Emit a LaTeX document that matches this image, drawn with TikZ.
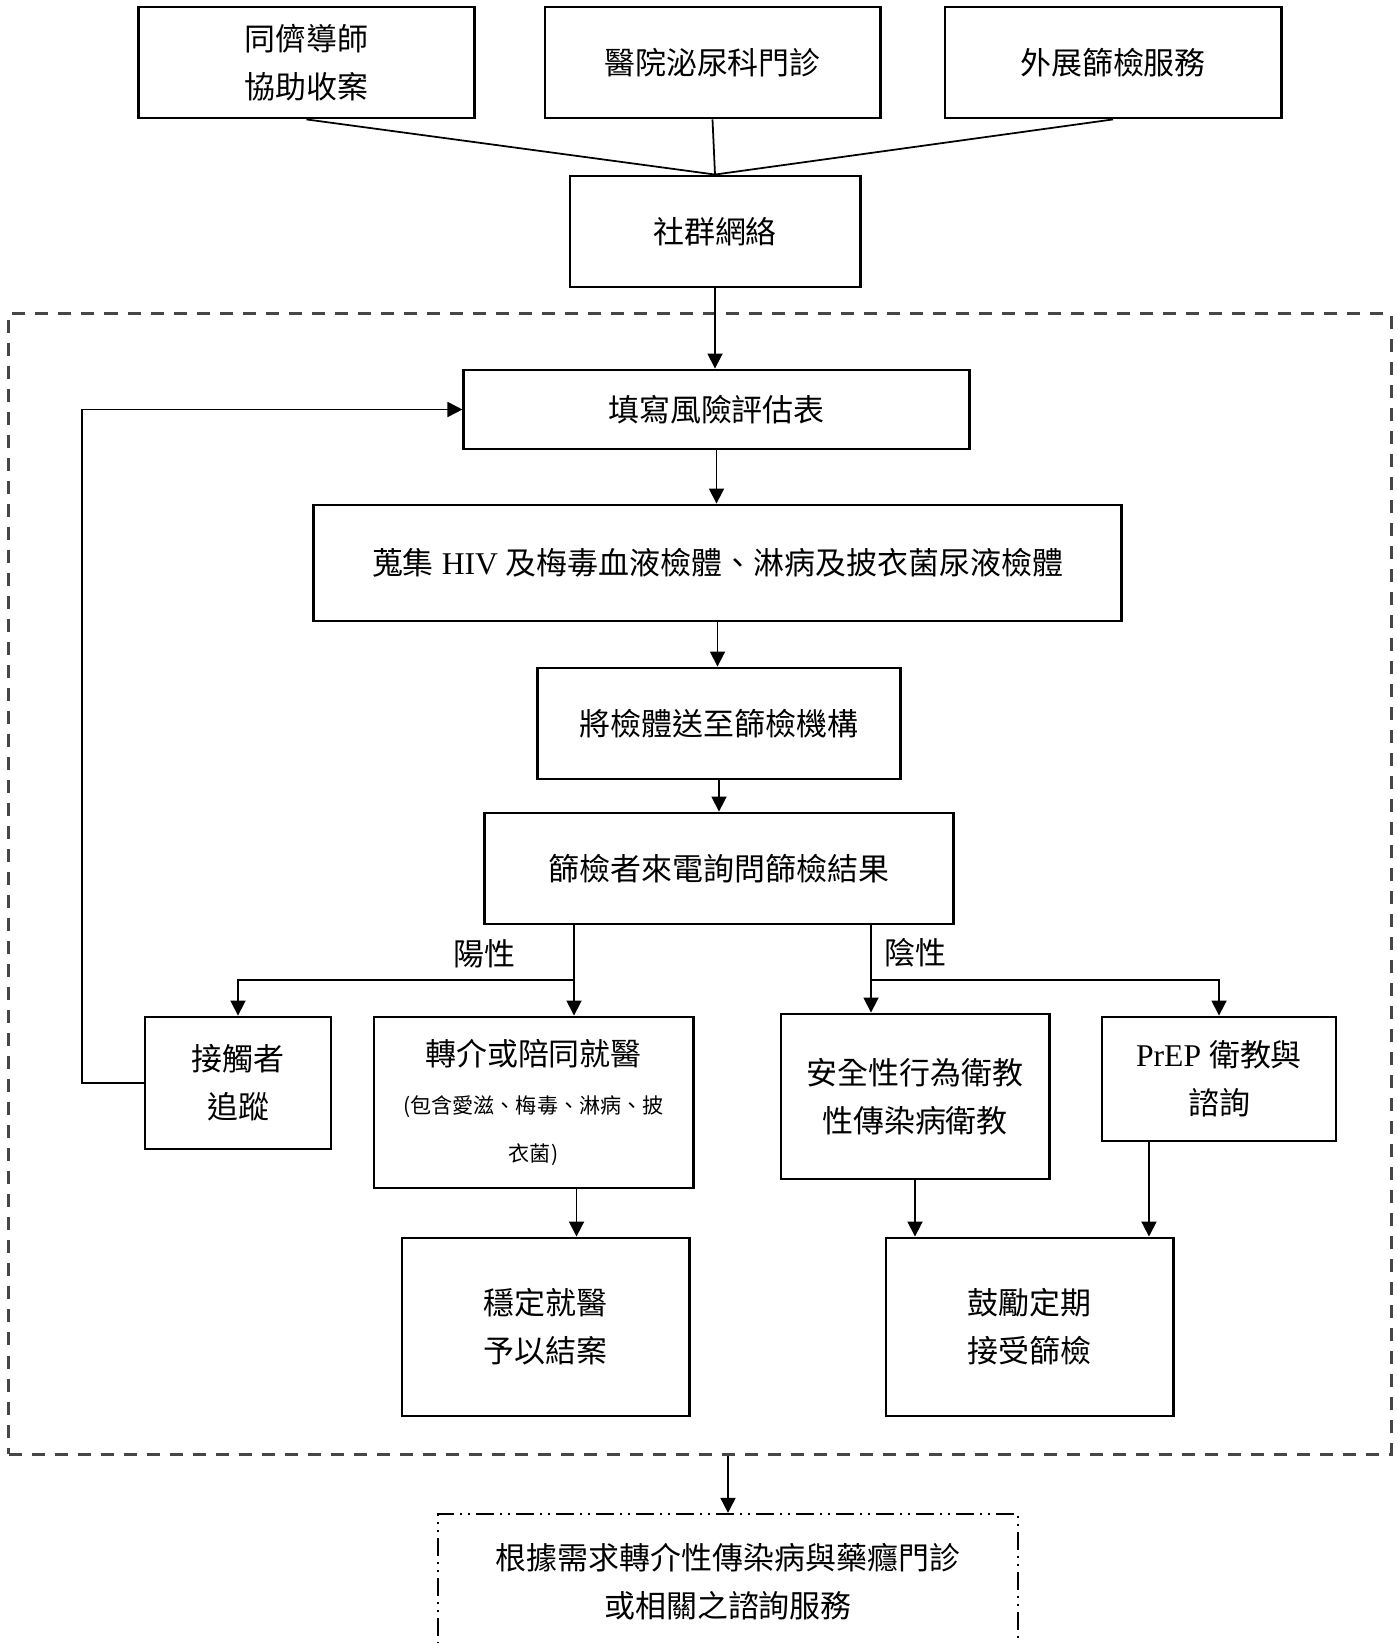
\documentclass[tikz,border=0pt]{standalone}
\usepackage{fontspec}
\setmainfont{Liberation Serif}
\newfontfamily\cjk{Noto Sans CJK TC}
\usetikzlibrary{arrows.meta}
\definecolor{framegray}{RGB}{70,70,70}
\newcommand{\lat}[1]{{\rmfamily\fontsize{9pt}{13.6pt}\selectfont#1}}
\newcommand{\smalltxt}{\fontsize{6pt}{13.6pt}\selectfont}
\tikzset{
	box/.style={draw, line width=0.8pt, align=center, inner sep=0pt, font=\fontsize{8.8pt}{13.6pt}\cjk},
	outbox/.style={box, line width=0.6pt, dash pattern=on 0.18cm off 0.06cm on 0.02cm off 0.06cm on 0.02cm off 0.06cm},
	frame/.style={draw=framegray, line width=1pt, dash pattern=on 0.13cm off 0.1cm, inner sep=0pt},
	lbl/.style={font=\fontsize{8.8pt}{13.6pt}\cjk},
	arr/.style={-{Triangle[length=0.15cm,width=0.15cm]}}
}
\begin{document}
\begin{tikzpicture}[x=0.01cm, y=-0.01cm, line width=0.5pt]
	\clip (0,0) rectangle (1397,1643);
	\node[frame, minimum width=13.82cm, minimum height=11.40cm] (frame) at (700,884) {};
	\node[box, minimum width=3.35cm, minimum height=1.11cm] (peer) at (306.5,62.5) {同儕導師\\協助收案};
	\node[box, minimum width=3.35cm, minimum height=1.11cm] (clinic) at (712.5,62.5) {醫院泌尿科門診};
	\node[box, minimum width=3.36cm, minimum height=1.11cm] (outreach) at (1113,62.5) {外展篩檢服務};
	\node[box, minimum width=2.90cm, minimum height=1.11cm] (social) at (715,231.5) {社群網絡};
	\node[box, minimum width=5.05cm, minimum height=0.79cm] (risk) at (716.5,409.5) {填寫風險評估表};
	\node[box, minimum width=8.07cm, minimum height=1.16cm] (sample) at (717.5,563) {蒐集\lat{ HIV }及梅毒血液檢體、淋病及披衣菌尿液檢體};
	\node[box, minimum width=3.62cm, minimum height=1.11cm] (ship) at (719,723.5) {將檢體送至篩檢機構};
	\node[box, minimum width=4.68cm, minimum height=1.11cm] (call) at (719,868.5) {篩檢者來電詢問篩檢結果};
	\node[box, minimum width=1.86cm, minimum height=1.32cm] (trace) at (238,1083) {接觸者\\追蹤};
	\node[box, minimum width=3.19cm, minimum height=1.71cm] (refer) at (533.5,1102.5) {轉介或陪同就醫\\\smalltxt (包含愛滋、梅毒、淋病、披\\\smalltxt 衣菌)};
	\node[box, minimum width=2.68cm, minimum height=1.65cm] (safe) at (915,1096.5) {安全性行為衛教\\性傳染病衛教};
	\node[box, minimum width=2.34cm, minimum height=1.24cm] (prep) at (1219,1079) {\lat{PrEP }衛教與\\諮詢};
	\node[box, minimum width=2.87cm, minimum height=1.78cm] (stable) at (545.5,1327) {穩定就醫\\予以結案};
	\node[box, minimum width=2.87cm, minimum height=1.78cm] (regular) at (1029.5,1327) {鼓勵定期\\接受篩檢};
	\node[outbox, minimum width=5.80cm, minimum height=1.36cm] (more) at (728,1582) {根據需求轉介性傳染病與藥癮門診\\或相關之諮詢服務};
	\node[lbl] (poslbl) at (484,954) {陽性};
	\node[lbl] (neglbl) at (915,953) {陰性};
	\coordinate (posfork) at (574,980);
	\coordinate (negfork) at (871,980);
	\coordinate (loop) at (82,1083);
	\draw (peer.south) -- (social.north);
	\draw (clinic.south) -- (social.north);
	\draw (outreach.south) -- (social.north);
	\draw[arr] (social.south) -- (social.south |- risk.north);
	\draw[arr] (risk.south) -- (risk.south |- sample.north);
	\draw[arr] (sample.south) -- (sample.south |- ship.north);
	\draw[arr] (ship.south) -- (ship.south |- call.north);
	\draw[arr] (posfork |- call.south) -- (posfork |- refer.north);
	\draw[arr] (posfork) -| (trace.north);
	\draw[arr] (negfork |- call.south) -- (negfork |- safe.north);
	\draw[arr] (negfork) -| (prep.north);
	\draw[arr] ([xshift=0.43cm]refer.south) -- ([xshift=0.43cm]refer.south |- stable.north);
	\draw[arr] (safe.south) -- (safe.south |- regular.north);
	\draw[arr] ([xshift=-0.7cm]prep.south) -- ([xshift=-0.7cm]prep.south |- regular.north);
	\draw[arr] (trace.west) -- (loop) |- (risk.west);
	\draw[arr] (more.north |- frame.south) -- (more.north);
\end{tikzpicture}
\end{document}
